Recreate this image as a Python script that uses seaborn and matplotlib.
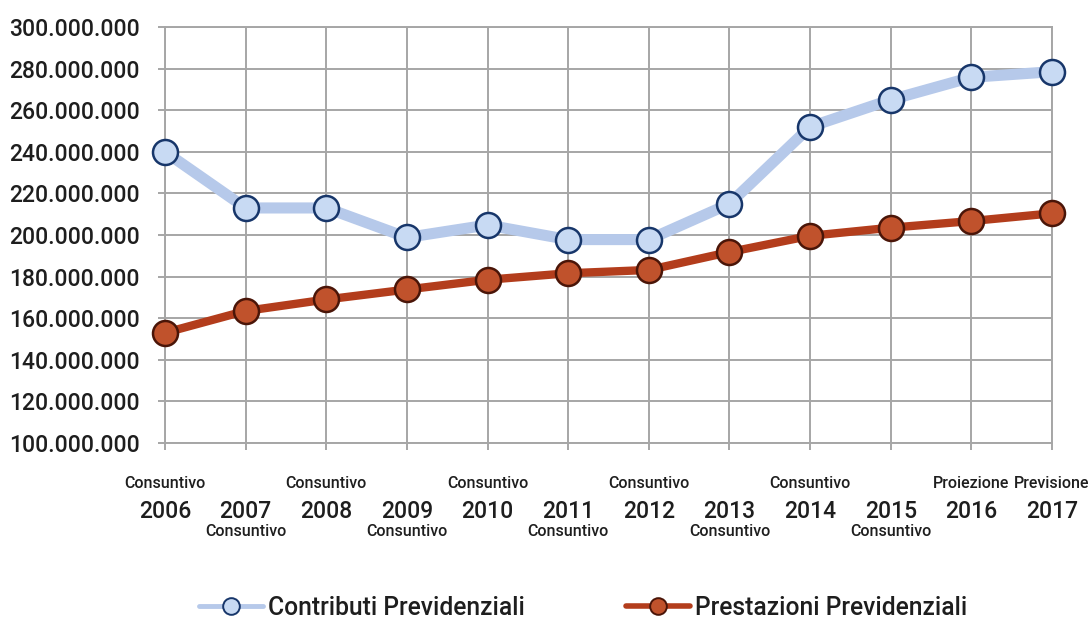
import matplotlib
matplotlib.use("Agg")
import matplotlib.pyplot as plt
import seaborn as sns
from matplotlib.lines import Line2D
from matplotlib.ticker import FuncFormatter, MultipleLocator

# Contributi e prestazioni previdenziali per anno (euro)
years = [2006, 2007, 2008, 2009, 2010, 2011, 2012, 2013, 2014, 2015, 2016, 2017]
contributi = [240.0e6, 213.0e6, 213.0e6, 198.8e6, 204.8e6, 197.8e6, 197.8e6,
              215.0e6, 252.0e6, 265.0e6, 275.8e6, 278.5e6]
prestazioni = [153.0e6, 163.5e6, 169.0e6, 173.8e6, 178.5e6, 181.6e6, 183.2e6,
               191.8e6, 199.6e6, 203.5e6, 206.7e6, 210.4e6]
stato = ["Consuntivo"] * 10 + ["Proiezione", "Previsione"]
series_names = ["Contributi Previdenziali", "Prestazioni Previdenziali"]

sns.set_theme(style="white")
plt.rcParams["font.family"] = ["Roboto", "DejaVu Sans"]
plt.rcParams["font.weight"] = "medium"

TEXT = "#1e1e1e"
GRID = "#a6a6a6"
BLUE_LINE, BLUE_FACE, BLUE_EDGE = "#b6c9ea", "#c8daf3", "#17366a"
RED_LINE, RED_FACE, RED_EDGE = "#b33d1c", "#c0522c", "#4a1508"

fig = plt.figure(figsize=(10.9, 6.23), dpi=100)
ax = fig.add_axes([0.1514, 0.2889, 0.8137, 0.6678])

sns.lineplot(x=years, y=contributi, ax=ax, color=BLUE_LINE, linewidth=8,
             marker="o", markersize=18, markerfacecolor=BLUE_FACE,
             markeredgecolor=BLUE_EDGE, markeredgewidth=1.8, clip_on=False,
             zorder=3)
sns.lineplot(x=years, y=prestazioni, ax=ax, color=RED_LINE, linewidth=6,
             marker="o", markersize=18, markerfacecolor=RED_FACE,
             markeredgecolor=RED_EDGE, markeredgewidth=1.8, clip_on=False,
             zorder=4)

ax.set_xlim(years[0], years[-1])
ax.set_ylim(100e6, 300e6)
ax.yaxis.set_major_locator(MultipleLocator(20e6))
ax.yaxis.set_major_formatter(
    FuncFormatter(lambda v, _: f"{v:,.0f}".replace(",", ".")))
ax.set_xticks(years)
ax.set_xticklabels([str(y) for y in years])

ax.grid(True, color=GRID, linewidth=1.4)
for side in ax.spines.values():
    side.set_color(GRID)
    side.set_linewidth(1.4)
ax.tick_params(axis="both", which="major", length=5, width=1.4, color=GRID,
               labelcolor=TEXT, labelsize=16.5)
ax.tick_params(axis="y", left=True, pad=13)
ax.tick_params(axis="x", bottom=True, pad=36)
ax.set_xlabel("")
ax.set_ylabel("")

# status label above or below each year, alternating
for i, (yr, s) in enumerate(zip(years, stato)):
    above = (i % 2 == 0) or s != "Consuntivo"
    dy = -29.5 if above else -63.5
    ax.annotate(s, xy=(yr, 0), xycoords=("data", "axes fraction"),
                xytext=(0, dy), textcoords="offset points",
                ha="center", va="center", fontsize=11.5, fontweight="medium",
                color=TEXT, annotation_clip=False)

handles = [
    Line2D([], [], color=BLUE_LINE, linewidth=3.5, marker="o", markersize=12,
           markerfacecolor=BLUE_FACE, markeredgecolor=BLUE_EDGE,
           markeredgewidth=1.4),
    Line2D([], [], color=RED_LINE, linewidth=4, marker="o", markersize=12,
           markerfacecolor=RED_FACE, markeredgecolor=RED_EDGE,
           markeredgewidth=1.4),
]
fig.legend(handles, series_names, loc="center", bbox_to_anchor=(0.535, 0.024),
           ncol=2, frameon=False, fontsize=17.7, handlelength=2.6,
           handletextpad=0.2, columnspacing=4.1, labelcolor=TEXT)

fig.savefig("out.png", dpi=100, facecolor="white")
